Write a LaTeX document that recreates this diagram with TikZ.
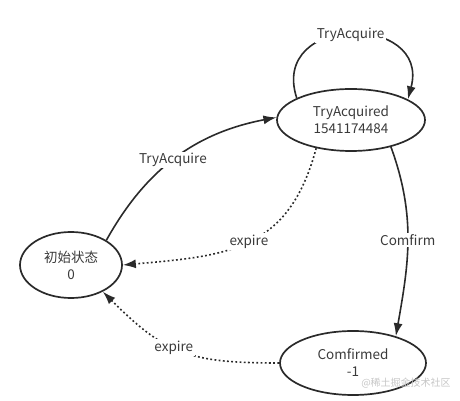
\documentclass[tikz,border=0pt]{standalone}
\usepackage{fontspec}
\setmainfont{Noto Sans CJK SC}
\usepackage{xcolor}
\usepackage{tikz}
\usetikzlibrary{arrows.meta,shapes.geometric}
\definecolor{linegray}{HTML}{2A2A2A}
\definecolor{textgray}{HTML}{3A3A3A}

\begin{document}
\begin{tikzpicture}[x=1pt,y=1pt,
		state/.style={draw=linegray, line width=1.7pt, ellipse, inner sep=0pt, align=center, text=textgray, font=\fontsize{13.5}{17}\selectfont},
		trans/.style={draw=linegray, line width=1.6pt, -{Latex[length=13pt,width=9pt]}},
		dots/.style={dash pattern=on 1.8pt off 2.4pt},
		lbl/.style={fill=white, text=textgray, inner sep=1.5pt, font=\fontsize{13.5}{16}\selectfont}]
		\useasboundingbox (0,0) rectangle (460,401);

		\node[state, minimum width=102pt, minimum height=66pt] (init) at (71,136) {初始状态\\0};
		\node[state, minimum width=148pt, minimum height=62pt] (acq) at (351,281) {TryAcquired\\1541174484};
		\node[state, minimum width=146pt, minimum height=64pt] (conf) at (353,38) {Comfirmed\\-1};

		\draw[trans] (init.35) to[bend left=25] node[lbl, pos=0.48] {TryAcquire} (acq.178);
		\draw[trans] (acq.158) to[out=108,in=75,looseness=2.05] node[lbl] {TryAcquire} (acq.20);
		\draw[trans, dots] (acq.219) to[out=255,in=5,looseness=1.2] node[lbl] {expire} (init.0);
		\draw[trans] (acq.-34) to[out=-70,in=80] node[lbl] {Comfirm} (conf.32);
		\draw[trans, dots] (conf.180) to[out=180,in=-45,looseness=1.2] node[lbl, pos=0.55] {expire} (init.-40);

		\node[text=gray!45, font=\fontsize{10}{12}\selectfont] (mark) at (406,18) {@稀土掘金技术社区};
\end{tikzpicture}
\end{document}
